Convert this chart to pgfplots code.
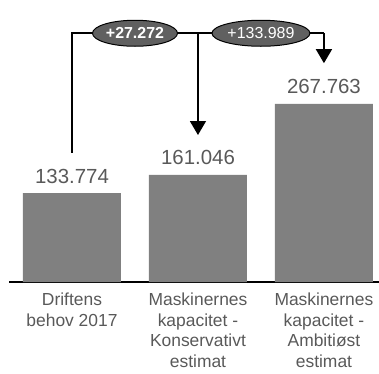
\documentclass[border=0pt]{standalone}
\usepackage{pgfplots}
\pgfplotsset{compat=1.18}
\usepackage{fontspec}
\setmainfont{Liberation Sans}
\usetikzlibrary{arrows.meta,shapes.geometric}
\definecolor{bargray}{HTML}{808080}
\definecolor{txtgray}{HTML}{595959}
\definecolor{ellgray}{HTML}{606060}
\begin{document}
\begin{tikzpicture}
\begin{axis}[
  name=ax,
  scale only axis,
  width=370bp, height=282bp,
  xmin=-0.5, xmax=2.437,
  ymin=0, ymax=424,
  hide y axis,
  axis x line*=bottom,
  x axis line style={-, line width=1.6bp, black},
  xtick={0,1,2},
  xticklabels={{Driftens\\behov 2017},{Maskinernes\\kapacitet -\\Konservativt\\estimat},{Maskinernes\\kapacitet -\\Ambitiøst\\estimat}},
  major tick length=0,
  x tick label style={align=center, text=txtgray, font=\fontsize{17.5}{21}\selectfont, yshift=-7bp},
  clip=false,
  ybar, bar width=98bp,
  nodes near coords,
  point meta=explicit symbolic,
  every node near coord/.append style={text=txtgray, font=\fontsize{20.5}{24}\selectfont, anchor=base, inner sep=0pt, yshift=10bp},
]
\addplot[fill=bargray, draw=none] table[meta=label] {
x y label
0 133.774 133.774
1 161.046 161.046
2 267.763 267.763
};
\draw[line width=1.6bp] (axis cs:0,194) -- (axis cs:0,374) -- (axis cs:2,374);
\draw[line width=1.6bp, -{Triangle[width=16bp,length=14bp]}] (axis cs:1,374) -- (axis cs:1,221);
\draw[line width=1.6bp, -{Triangle[width=16bp,length=14bp]}] (axis cs:2,374) -- (axis cs:2,329);
\node[ellipse, fill=ellgray, draw=black, line width=1bp, minimum width=85bp, minimum height=26bp, inner sep=0pt, text=white, font=\fontsize{16}{18}\selectfont\bfseries] at (axis cs:0.5,374) {+27.272};
\node[ellipse, fill=ellgray, draw=black, line width=1bp, minimum width=98bp, minimum height=26bp, inner sep=0pt, text=white, font=\fontsize{16}{18}\selectfont] at (axis cs:1.5,374) {+133.989};
\end{axis}
\pgfresetboundingbox
\path[use as bounding box] ([xshift=-9bp,yshift=-92bp]ax.south west) rectangle (ax.north east);
\end{tikzpicture}
\end{document}
